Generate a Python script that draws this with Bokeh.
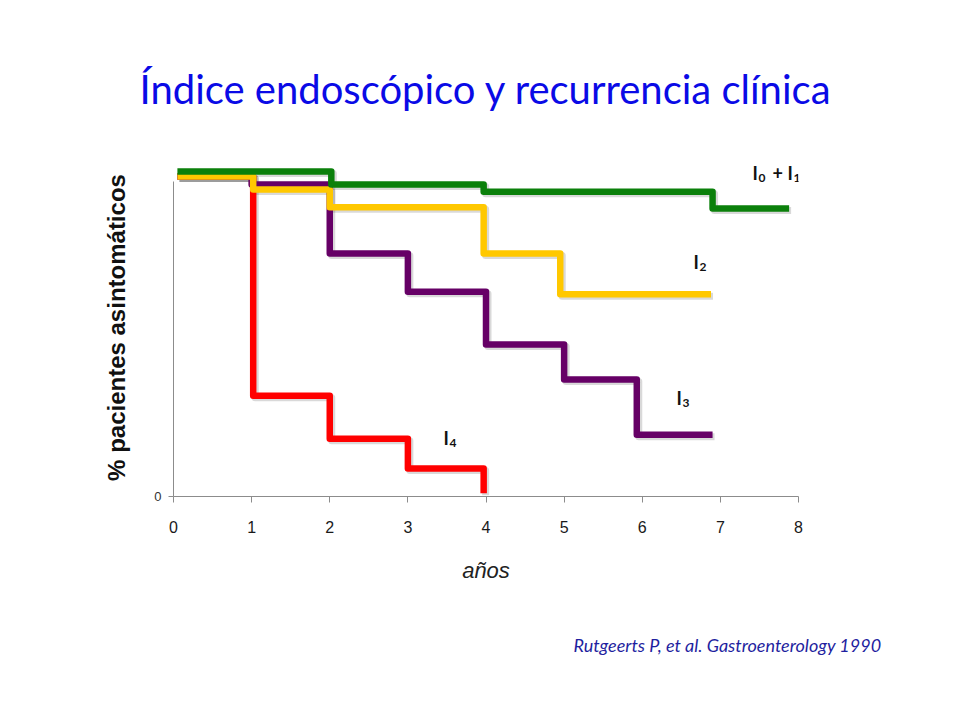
from bokeh.plotting import figure
from bokeh.models import Label, FixedTicker, Range1d, LinearAxis, Title
from bokeh.embed import file_html
from bokeh.resources import INLINE

# ---- data (years, % asymptomatic patients) ----
x_ticks = [0, 1, 2, 3, 4, 5, 6, 7, 8]
y_ticks = [0]

g01_x = [0.05, 2.02, 3.97, 6.9, 7.88]
g01_y = [100.0, 96.0, 93.8, 88.6, 88.6]

g2_x = [0.05, 1.02, 2.0, 3.97, 4.95, 6.88]
g2_y = [98.5, 94.5, 89.0, 74.8, 62.2, 62.2]

g3_x = [0.05, 1.0, 2.0, 3.0, 4.0, 5.0, 5.93, 6.9]
g3_y = [98.5, 96.0, 74.8, 63.0, 46.8, 36.0, 19.0, 19.0]

g4_x = [0.05, 1.02, 2.0, 3.0, 3.97]
g4_y = [98.5, 31.0, 17.8, 8.6, 1.0]

# ---- helpers: page pixel -> data coordinates (for text placement only) ----
X0, XS = 173.0, 78.125
Y0, YS = 496.0, 3.25
def dx(px):
    return (px - X0) / XS
def dy(py):
    return (Y0 - py) / YS

p = figure(width=944, height=704, x_range=Range1d(0, 8), y_range=Range1d(0, 104),
           output_backend="svg", toolbar_location=None,
           min_border_left=173, min_border_right=146, min_border_top=158,
           min_border_bottom=208)
p.outline_line_color = None
p.grid.visible = False
p.background_fill_color = "white"
p.border_fill_color = "white"

# title
p.title.text = "Índice endoscópico y recurrencia clínica"
p.title.align = "center"
p.title.text_font = "Lato"
p.title.text_font_style = "normal"
p.title.text_font_size = "40px"
p.title.text_color = "#0a0ae6"
p.title.standoff = 92

# axes
p.xaxis.ticker = FixedTicker(ticks=x_ticks)
p.xaxis.axis_line_color = "#8c8c8c"
p.xaxis.major_tick_line_color = "#8c8c8c"
p.xaxis.major_tick_out = 6
p.xaxis.major_tick_in = 0
p.xaxis.minor_tick_line_color = None
p.xaxis.major_label_text_font = "Liberation Sans"
p.xaxis.major_label_text_font_size = "16px"
p.xaxis.major_label_text_color = "#1a1a1a"
p.xaxis.major_label_standoff = 18
p.xaxis.axis_label = "años"
p.xaxis.axis_label_text_font = "Liberation Sans"
p.xaxis.axis_label_text_font_style = "italic"
p.xaxis.axis_label_text_font_size = "22px"
p.xaxis.axis_label_text_color = "#222222"
p.xaxis.axis_label_standoff = 22

p.yaxis.ticker = FixedTicker(ticks=y_ticks)
p.yaxis.bounds = (0, 97)
p.yaxis.axis_line_color = "#8c8c8c"
p.yaxis.major_tick_line_color = "#8c8c8c"
p.yaxis.major_tick_out = 5
p.yaxis.major_tick_in = 0
p.yaxis.minor_tick_line_color = None
p.yaxis.major_label_text_font = "Liberation Sans"
p.yaxis.major_label_text_font_size = "13px"
p.yaxis.major_label_text_color = "#333333"
p.yaxis.major_label_standoff = 7

# label-only axis on the left for the y title
lab_axis = LinearAxis(ticker=FixedTicker(ticks=[]),
                      axis_line_color=None, major_tick_line_color=None,
                      minor_tick_line_color=None,
                      axis_label="% pacientes asintomáticos",
                      axis_label_text_font="Liberation Sans",
                      axis_label_text_font_style="bold",
                      axis_label_text_font_size="24px",
                      axis_label_text_color="#111111",
                      axis_label_standoff=22)
p.add_layout(lab_axis, "left")

# citation
cite = Title(text="Rutgeerts P, et al. Gastroenterology 1990", align="right", offset=-83,
             text_font="Lato", text_font_style="italic", text_font_size="18px",
             text_color="#1f1fa0", standoff=92)
p.add_layout(cite, "below")

# curves (with a subtle drop shadow)
series = [
    (g4_x, g4_y, "#ff0000"),
    (g3_x, g3_y, "#660066"),
    (g2_x, g2_y, "#ffc800"),
    (g01_x, g01_y, "#0b800b"),
]
sdx, sdy = 2.0 / XS, -2.0 / YS
for xs, ys, col in series:
    p.step([v + sdx for v in xs], [v + sdy for v in ys], mode="after",
           line_color="black", line_alpha=0.15, line_width=7, line_join="round")
for xs, ys, col in series:
    p.step(xs, ys, mode="after", line_color=col, line_width=6.5, line_join="round")

# series labels with subscripts
def sublabel(px, py, parts):
    cx = px
    for txt, sub, w in parts:
        p.add_layout(Label(x=dx(cx), y=dy(py + (5 if sub else 0)), text=txt,
                           text_font="Lato", text_font_style="bold",
                           text_font_size="12px" if sub else "18px",
                           text_color="#111111", text_align="left", text_baseline="alphabetic"))
        cx += w

sublabel(752, 172, [("I", False, 6), ("0", True, 14), ("+", False, 15), ("I", False, 6), ("1", True, 8)])
sublabel(693, 261, [("I", False, 6), ("2", True, 8)])
sublabel(676, 397, [("I", False, 6), ("3", True, 8)])
sublabel(443, 437, [("I", False, 6), ("4", True, 8)])

open("out.html", "w").write(file_html(p, INLINE))
